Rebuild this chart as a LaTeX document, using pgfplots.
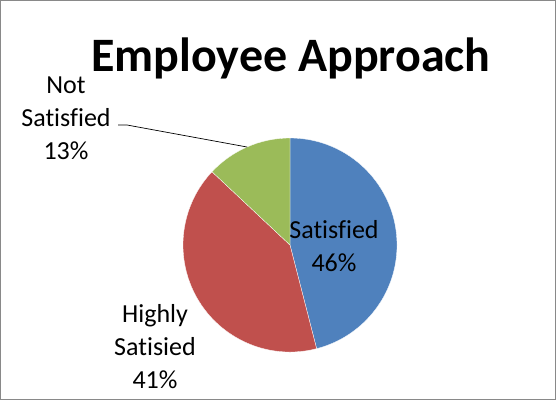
\documentclass[border=0pt]{standalone}
\usepackage{pgfplots}
\pgfplotsset{compat=1.18}
\usepackage{fontspec}
\setmainfont{Carlito}[Ligatures=NoCommon]

\definecolor{pieblue}{HTML}{4F81BD}
\definecolor{piered}{HTML}{C0504D}
\definecolor{piegreen}{HTML}{9BBB59}
\definecolor{framegray}{HTML}{898989}

% shares in percent
\def\vSat{46}
\def\vHigh{41}
\def\vNot{13}

\begin{document}
\begin{tikzpicture}
\begin{axis}[
    scale only axis, width=556pt, height=400pt,
    xmin=0, xmax=556, ymin=0, ymax=400,
    hide axis, clip=false]
  % outer frame
  \draw[framegray, line width=1pt] (axis cs:0.5,0.5) rectangle (axis cs:555.5,399.5);
  % wedges, clockwise from 12 o'clock
  \fill[pieblue, draw=white, line width=0.3pt] (axis cs:290,155) -- ++(90:107)
     arc[start angle=90, end angle={90-3.6*\vSat}, radius=107] -- cycle;
  \fill[piered, draw=white, line width=0.3pt] (axis cs:290,155) -- ++({90-3.6*\vSat}:107)
     arc[start angle={90-3.6*\vSat}, end angle={90-3.6*(\vSat+\vHigh)}, radius=107] -- cycle;
  \fill[piegreen, draw=white, line width=0.3pt] (axis cs:290,155) -- ++({90-3.6*(\vSat+\vHigh)}:107)
     arc[start angle={90-3.6*(\vSat+\vHigh)}, end angle={-270}, radius=107] -- cycle;
  % leader line
  \draw[black, line width=0.7pt] (axis cs:118,275) -- (axis cs:127,275) -- (axis cs:247,253);
  % title
  \node[font=\fontsize{48}{52}\selectfont\bfseries] at (axis cs:291,342) {Employee Approach};
  % labels
  \node[align=center, font=\fontsize{26}{33}\selectfont] at (axis cs:334,154) {Satisfied\\46\%};
  \node[align=center, font=\fontsize{26}{33}\selectfont] at (axis cs:155,53) {Highly\\Satisied\\41\%};
  \node[align=center, font=\fontsize{26}{33}\selectfont] at (axis cs:66,282) {Not\\Satisfied\\13\%};
\end{axis}
\end{tikzpicture}
\end{document}
